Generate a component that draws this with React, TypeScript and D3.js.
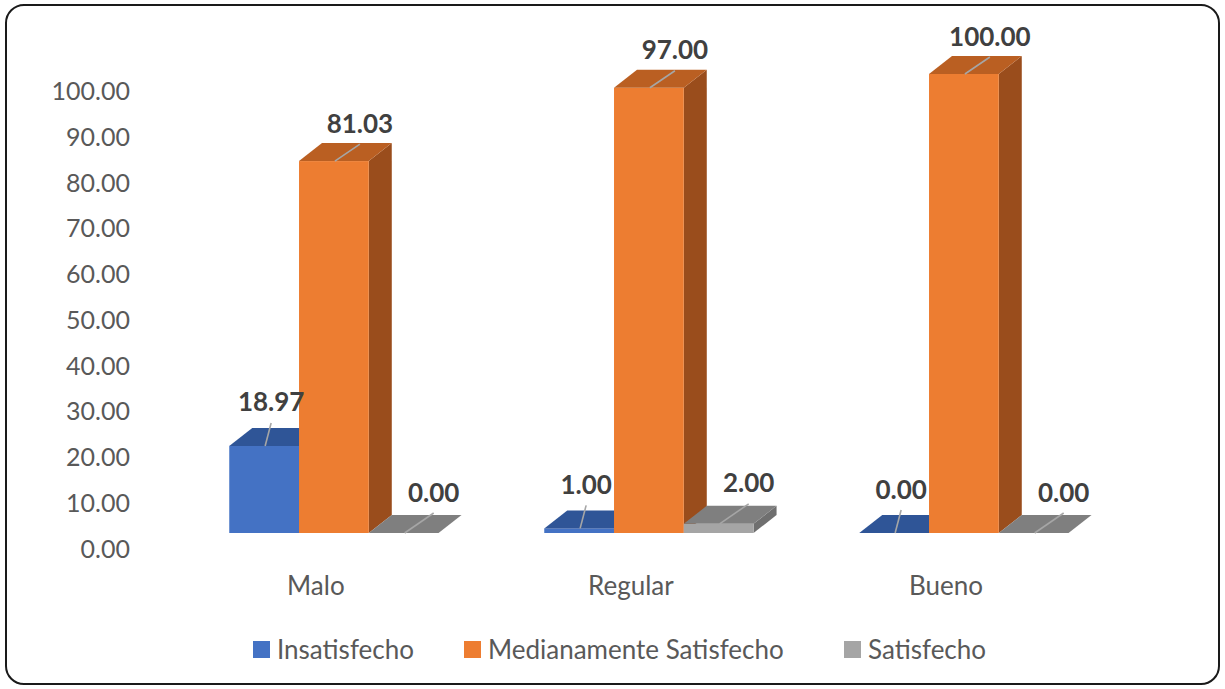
import React from "react";
import * as d3 from "d3";

// Survey results per category (percent)
const categories = ["Malo", "Regular", "Bueno"];
const seriesNames = ["Insatisfecho", "Medianamente Satisfecho", "Satisfecho"];
const insatisfecho = [18.97, 1.0, 0.0];
const medianamente = [81.03, 97.0, 100.0];
const satisfecho = [0.0, 2.0, 0.0];
const yTicks = [0, 10, 20, 30, 40, 50, 60, 70, 80, 90, 100];

const seriesValues = [insatisfecho, medianamente, satisfecho];

const W = 1225;
const H = 689;
const FONT = "Lato, 'Open Sans', sans-serif";

// 3D shading: front, top, side
const palette = [
  { front: "#4472C4", top: "#2F5597", side: "#2B4F8C" },
  { front: "#ED7D31", top: "#BA5F22", side: "#9A4D1C" },
  { front: "#A5A5A5", top: "#7F7F7F", side: "#6F6F6F" },
];

const DEPTH_X = 23;
const DEPTH_Y = 18;

// leader line end relative to the front-top centre of each bar, per series
const leader = [
  { dx: 6, dy: -23 },
  { dx: 25, dy: -17 },
  { dx: 29, dy: -20 },
];

export default function App() {
  const x = d3
    .scaleBand<string>()
    .domain(categories)
    .range([176.4, 1121.4])
    .paddingInner(0.3356)
    .paddingOuter(0.1678);
  const xs = d3
    .scaleBand<string>()
    .domain(seriesNames)
    .range([0, x.bandwidth()])
    .padding(0);

  // bars (front plane) and value axis (back wall)
  const yBar = d3.scaleLinear().domain([0, 100]).range([533, 74]);
  const yAxis = d3.scaleLinear().domain([0, 100]).range([547.5, 90]);
  const fmt = d3.format(".2f");

  const bars: React.ReactNode[] = [];
  const labels: React.ReactNode[] = [];

  categories.forEach((cat, ci) => {
    seriesNames.forEach((s, si) => {
      const v = seriesValues[si][ci];
      const x0 = (x(cat) as number) + (xs(s) as number);
      const x1 = x0 + xs.bandwidth();
      const yb = yBar(0);
      const yt = yBar(v);
      const c = palette[si];
      const key = `${ci}-${si}`;
      const top = `M${x0},${yt}L${x0 + DEPTH_X},${yt - DEPTH_Y}L${x1 + DEPTH_X},${yt - DEPTH_Y}L${x1},${yt}Z`;
      const side = `M${x1},${yt}L${x1 + DEPTH_X},${yt - DEPTH_Y}L${x1 + DEPTH_X},${yb - DEPTH_Y}L${x1},${yb}Z`;
      bars.push(
        <g key={key}>
          {v > 0 && <path d={side} fill={c.side} />}
          {v > 0 && (
            <rect x={x0} y={yt} width={x1 - x0} height={yb - yt} fill={c.front} />
          )}
          <path d={top} fill={c.top} />
        </g>
      );
      const cx = (x0 + x1) / 2 + 1;
      const ex = cx + leader[si].dx;
      const ey = yt + leader[si].dy;
      labels.push(
        <g key={"l" + key}>
          <line x1={cx} y1={yt} x2={ex} y2={ey} stroke="#A6A6A6" strokeWidth={1.6} />
          <text
            x={ex}
            y={ey - 21.5}
            textAnchor="middle"
            dominantBaseline="central"
            fontFamily={FONT}
            fontWeight="bold"
            fontSize={26}
            fill="#404040"
          >
            {fmt(v)}
          </text>
        </g>
      );
    });
  });

  const legendItems = [
    { name: seriesNames[0], sx: 253, tx: 277 },
    { name: seriesNames[1], sx: 464, tx: 488 },
    { name: seriesNames[2], sx: 844, tx: 868 },
  ];

  return (
    <svg
      width={W}
      height={H}
      style={{ position: "absolute", left: 0, top: 0, background: "#fff" }}
    >
      <rect x={6} y={5} width={1213} height={679} rx={18} ry={18} fill="#fff" stroke="#1a1a1a" strokeWidth={2} />

      {yTicks.map((t) => (
        <text
          key={t}
          x={130}
          y={yAxis(t)}
          textAnchor="end"
          dominantBaseline="central"
          fontFamily={FONT}
          fontSize={25}
          fill="#595959"
        >
          {fmt(t)}
        </text>
      ))}

      {bars}
      {labels}

      {categories.map((c) => (
        <text
          key={c}
          x={(x(c) as number) + x.bandwidth() / 2 - 18}
          y={585}
          textAnchor="middle"
          dominantBaseline="central"
          fontFamily={FONT}
          fontSize={26}
          fill="#595959"
        >
          {c}
        </text>
      ))}

      {legendItems.map((it, i) => (
        <g key={it.name}>
          <rect x={it.sx} y={641} width={17} height={17} fill={palette[i].front} />
          <text
            x={it.tx}
            y={649}
            dominantBaseline="central"
            fontFamily={FONT}
            fontSize={26}
            fill="#595959"
          >
            {it.name}
          </text>
        </g>
      ))}
    </svg>
  );
}
